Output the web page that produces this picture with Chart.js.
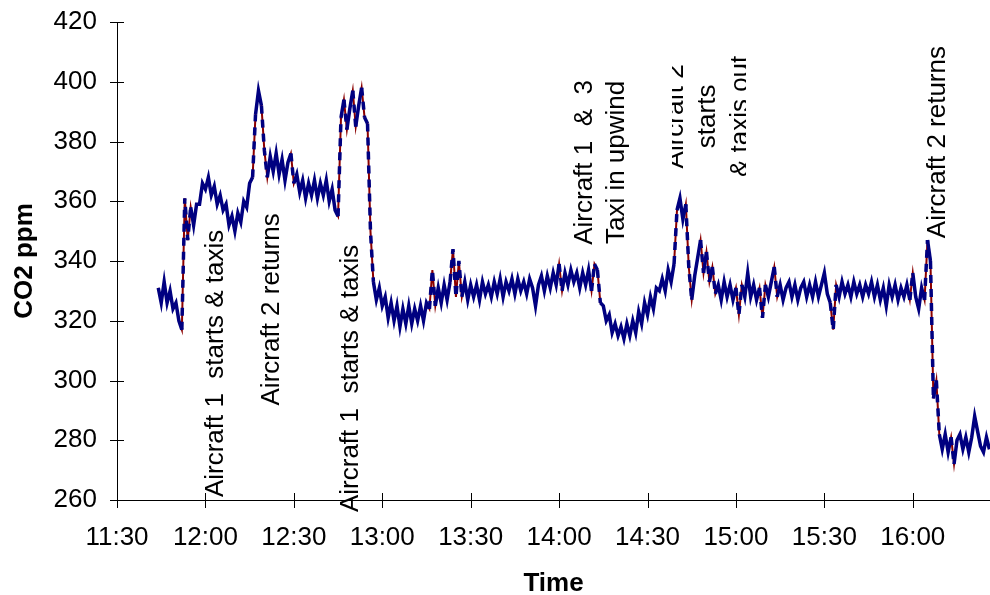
<!DOCTYPE html>
<html>
<head>
<meta charset="utf-8">
<script src="https://cdn.jsdelivr.net/npm/chart.js@4.4.1/dist/chart.umd.min.js"></script>
<style>
  html, body { margin: 0; padding: 0; background: #fff; }
  #wrap { width: 990px; height: 595px; }
</style>
</head>
<body>
<div id="wrap"><canvas id="grafico"></canvas></div>
<script>
// Lecturas de CO2 (ppm), una por minuto desde las 11:44
const inicio = 11 * 60 + 44;
const co2 = [
  331, 326, 333, 326, 330, 324, 326, 320, 317,
  361, 347, 358, 352, 359,
  359, 366, 364, 368, 362, 365, 359, 362, 357, 359,
  352, 355, 350, 356, 353, 360, 358, 366, 368,
  389, 397, 392,
  377, 368, 375, 370, 376, 369, 374, 367, 373, 376,
  366, 369, 363, 367, 361, 366, 362, 367, 361, 366,
  362, 367, 360, 364, 357, 355,
  388, 394, 384, 391, 397, 385, 392, 398, 388, 386, 350,
  333, 327, 331, 325, 328, 321, 326, 320, 325, 318,
  324, 319, 325, 319, 324, 320, 325, 320, 326, 324,
  337, 325, 331, 326, 332, 327, 333, 344, 328, 340,
  328, 333, 327, 332,
  328, 332, 327, 333, 329, 332, 328, 333, 329, 334,
  328, 333, 330, 334, 329, 334, 330, 333, 329, 334,
  331, 325, 332, 335, 330, 335, 331, 336, 332, 339,
  330, 336, 332, 337, 333, 336, 331, 336, 332, 337,
  330, 339, 337, 326,
  325, 320, 322, 316, 319, 315, 318, 314, 319, 315,
  320, 316, 323, 319, 326, 322, 328, 324, 331, 330,
  334, 330, 337, 333, 339,
  357, 361, 354, 359, 338, 327, 335, 341, 347, 336,
  343, 333, 338, 329,
  332, 327, 333, 328, 332, 327, 331, 322, 332, 328,
  336, 328, 332, 327, 331, 321, 332, 328, 333, 338,
  328, 332, 327, 331, 333, 328, 332, 327, 331, 333,
  328, 332, 328, 333, 328, 332, 336, 329, 326, 317,
  332, 328, 333, 329, 332, 328, 333, 329, 332, 328,
  332, 329, 333, 328, 332, 327, 331, 325, 332, 328,
  332, 327, 331, 328, 332, 327, 336, 328, 324, 331,
  327,
  347, 340, 294, 300, 282, 277, 282, 276, 281, 272,
  280, 282, 277, 281, 276, 281, 288, 283, 278, 276,
  281, 277
];

// Etiquetas del eje X
const tickLabels = ['11:30', '12:00', '12:30', '13:00', '13:30', '14:00', '14:30', '15:00', '15:30', '16:00'];
const ejeInicio = 11 * 60 + 30;

// Notas de eventos (hora en minutos, ppm del centro del texto)
const notas = [
  { lineas: ['Aircraft 1  starts & taxis'], t: 11 * 60 + 63.6, ppm: 305.7 },
  { lineas: ['Aircraft 2 returns'], t: 11 * 60 + 82.6, ppm: 323.8 },
  { lineas: ['Aircraft 1  starts & taxis'], t: 11 * 60 + 109.4, ppm: 300.7 },
  { lineas: ['Aircraft 1  &  3', 'Taxi in upwind'], t: 11 * 60 + 194.2, ppm: 373.0 },
  { lineas: ['Aircraft 2', 'starts', '& taxis out'], t: 11 * 60 + 230.5, ppm: 388.4, recorte: [672, 746] },
  { lineas: ['Aircraft 2 returns'], t: 11 * 60 + 308.6, ppm: 379.8 }
];

const puntos = co2.map((v, i) => ({ x: inicio + i, y: v }));
const fuente = 'Liberation Sans, Arial, sans-serif';

// Marcas de graduación que cruzan el eje (estilo Excel)
const marcasCruzadas = {
  id: 'marcasCruzadas',
  afterDraw(chart) {
    const { ctx, scales: { x, y } } = chart;
    ctx.save();
    ctx.strokeStyle = '#000';
    ctx.lineWidth = 1;
    ctx.beginPath();
    for (let v = 260; v <= 420; v += 20) {
      const py = Math.round(y.getPixelForValue(v)) + 0.5;
      ctx.moveTo(x.left - 7, py);
      ctx.lineTo(x.left + 7, py);
    }
    tickLabels.forEach((_, i) => {
      const px = Math.round(x.getPixelForValue(ejeInicio + i * 30)) + 0.5;
      ctx.moveTo(px, y.bottom - 7);
      ctx.lineTo(px, y.bottom + 8);
    });
    ctx.stroke();
    ctx.restore();
  }
};

// Textos verticales de los eventos
const textosEventos = {
  id: 'textosEventos',
  afterDatasetsDraw(chart) {
    const { ctx, scales: { x, y } } = chart;
    const alto = 32.5;
    notas.forEach(n => {
      const px = x.getPixelForValue(n.t);
      const py = y.getPixelForValue(n.ppm);
      ctx.save();
      if (n.recorte) {
        ctx.beginPath();
        ctx.rect(n.recorte[0], 0, n.recorte[1] - n.recorte[0], chart.height);
        ctx.clip();
      }
      ctx.translate(px, py);
      ctx.rotate(-Math.PI / 2);
      ctx.font = '26px ' + fuente;
      ctx.fillStyle = '#000';
      ctx.textAlign = 'center';
      ctx.textBaseline = 'middle';
      n.lineas.forEach((l, i) => {
        ctx.fillText(l, 0, (i - (n.lineas.length - 1) / 2) * alto);
      });
      ctx.restore();
    });
  }
};

// Solo los tramos con mucha pendiente dejan ver el trazo discontinuo
const guionSiEmpinado = c => Math.abs(c.p1.y - c.p0.y) > 25 ? [8, 6] : [];

const ctx = document.getElementById('grafico').getContext('2d');
const grafico = new Chart(ctx, {
  type: 'line',
  data: {
    datasets: [
      {
        label: 'CO2',
        data: puntos,
        borderColor: '#000080',
        borderWidth: 3.5,
        pointRadius: 0,
        tension: 0,
        segment: { borderDash: guionSiEmpinado },
        order: 1
      },
      {
        label: 'CO2 base',
        data: puntos,
        borderColor: '#8b0000',
        borderWidth: 2,
        pointRadius: 0,
        tension: 0,
        order: 2
      }
    ]
  },
  options: {
    responsive: true,
    maintainAspectRatio: false,
    animation: false,
    layout: { padding: { top: 22, right: 0, left: 0, bottom: 0 } },
    plugins: {
      legend: { display: false },
      tooltip: { enabled: false }
    },
    scales: {
      x: {
        type: 'linear',
        min: ejeInicio,
        max: ejeInicio + 296.2,
        afterFit: s => { s.height = 95; s.paddingLeft = 0; s.paddingRight = 0; },
        grid: { display: false, drawTicks: false },
        border: { display: true, color: '#000', width: 1 },
        ticks: {
          stepSize: 30,
          includeBounds: false,
          autoSkip: false,
          maxRotation: 0,
          padding: 22,
          color: '#000',
          font: { family: fuente, size: 26 },
          callback: v => tickLabels[Math.round((v - ejeInicio) / 30)]
        },
        title: {
          display: true,
          text: 'Time',
          color: '#000',
          padding: 0,
          font: { family: fuente, size: 26, weight: 'bold', lineHeight: 0.85 }
        }
      },
      y: {
        min: 260,
        max: 420,
        afterFit: s => { s.width = 117; s.paddingTop = 0; s.paddingBottom = 0; },
        grid: { display: false, drawTicks: false },
        border: { display: true, color: '#000', width: 1 },
        ticks: {
          stepSize: 20,
          padding: 20,
          color: '#000',
          font: { family: fuente, size: 26 }
        },
        title: {
          display: true,
          text: 'CO2 ppm',
          color: '#000',
          padding: { top: 9.4, bottom: 0 },
          font: { family: fuente, size: 26, weight: 'bold' }
        }
      }
    }
  },
  plugins: [textosEventos, marcasCruzadas]
});
</script>
</body>
</html>
